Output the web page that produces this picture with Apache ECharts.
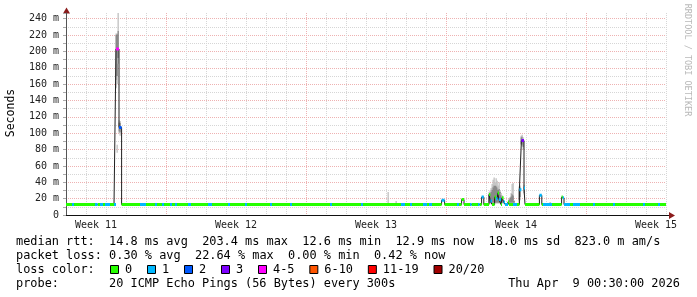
<!DOCTYPE html>
<html><head><meta charset="utf-8">
<script src="https://cdn.jsdelivr.net/npm/echarts@6/dist/echarts.min.js"></script>
<style>html,body{margin:0;padding:0;background:#fff}#c{width:697px;height:297px}</style>
</head><body><div id="c"></div>
<script>
// ---- data (time in days from left edge of the graph) ----
const weekLabels = ['Week 11','Week 12','Week 13','Week 14','Week 15'];
const weekCenters = [1.5, 8.5, 15.5, 22.5, 29.5];
const yLabelValues = [0,20,40,60,80,100,120,140,160,180,200,220,240];
const yLabelTexts = ['0','20 m','40 m','60 m','80 m','100 m','120 m','140 m','160 m','180 m','200 m','220 m','240 m'];

// median rtt (ms) segments: start time, value, loss colour index
const medStart = [0,0.3,0.4,1.45,1.58,1.7,1.85,1.95,2.2,2.4,2.5,2.65,2.78,3.7,4.0,4.45,4.55,4.8,4.9,5.2,5.3,5.45,5.55,6.1,6.25,7.1,7.3,8.1,8.2,8.95,9.05,10.2,10.3,11.2,11.3,13.2,13.3,14.75,14.85,16.75,16.95,17.2,17.3,17.85,18.05,18.15,18.3,18.78,18.93,19.55,19.65,19.78,19.9,20.2,20.28,20.6,20.68,20.78,20.89,21.15,21.22,21.3,21.43,21.5,21.58,21.65,21.75,21.8,21.88,21.95,22.1,22.15,22.35,22.55,22.67,22.77,22.9,22.95,23.67,23.79,23.85,24.3,24.78,24.84,24.9,25.2,25.35,25.7,26.35,26.45,27.35,27.45,28.85,28.95,29.6,29.7];
const medValue = [12.8,12.8,12.8,12.8,12.8,12.8,12.8,12.8,12.8,12.8,203,107,12.8,12.8,12.8,12.8,12.8,12.8,12.8,12.8,12.8,12.8,12.8,12.8,12.8,12.8,12.8,12.8,12.8,12.8,12.8,12.8,12.8,12.8,12.8,12.8,12.8,12.8,12.8,12.8,12.8,12.8,12.8,12.8,12.8,12.8,12.8,18,12.8,12.8,12.8,19,12.8,12.8,12.8,12.8,12.8,22,12.8,25,17,12.8,22,20,27,19,12.8,21,16,12.8,16,12.8,12.8,12.8,31,91,33,12.8,24,12.8,12.8,12.8,22,21,12.8,12.8,12.8,12.8,12.8,12.8,12.8,12.8,12.8,12.8,12.8,12.8];
const medLoss = [0,1,0,1,0,1,0,1,0,1,4,2,0,1,0,1,0,1,0,1,0,1,0,1,0,1,0,1,0,1,0,1,0,1,0,1,0,1,0,1,0,1,0,1,0,1,0,1,0,1,0,0,0,1,0,1,0,1,0,0,1,0,0,1,0,1,0,0,1,1,0,0,1,0,1,3,1,0,1,0,1,0,0,1,1,0,1,0,1,0,1,0,1,0,1,0];
const medEnd = 30;

// smoke (ping spread, ms): time, low, dark low, dark high, high
const smokeTime   = [2.5,2.55,2.55,2.6,2.65,2.7,16.1,16.5,21.15,21.2,21.25,21.3,21.35,21.4,21.45,21.5,21.55,21.6,21.65,21.7,21.75,21.8,21.85,22.15,22.2,22.25,22.3,22.35,22.4,22.65,22.7,22.75,22.8,22.85,22.9,24.2];
const smokeLo     = [155,160,76,185,100,97,14,14,14,14,14,14,14,14,14,14,14,14,14,14,14,14,14,14,14,14,14,14,14,15,18,86,84,80,25,14];
const smokeDarkLo = [165,170,80,192,102,101,14,14,15,15,15,15,15,15,15,15,15,15,15,15,15,15,15,15,15,15,15,15,15,18,22,87,86,83,27,14];
const smokeDarkHi = [220,221,80,225,113,113,14,14,25,26,28,31,34,36,36,36,34,31,32,28,24,21,19,19,21,23,26,24,17,32,34,95,96,93,35,14];
const smokeHi     = [222,222,86,250,116,115,28,17,28,30,33,38,43,46,40,45,42,36,40,30,27,24,20,20,22,27,38,39,18,35,36,97,98,95,37,16];

const lossLabels = ['0','1','2','3','4-5','6-10','11-19','20/20'];
const lossColors = ['#26ff00','#00b8ff','#0059ff','#7e00ff','#ff00ff','#ff5500','#ff0000','#a00000'];

const statLine1 = 'median rtt:  14.8 ms avg  203.4 ms max  12.6 ms min  12.9 ms now  18.0 ms sd  823.0 m am/s';
const statLine2 = 'packet loss: 0.30 % avg  22.64 % max  0.00 % min  0.42 % now';
const lossTitle = 'loss color:';
const probeTitle = 'probe:';
const probeText = '20 ICMP Echo Pings (56 Bytes) every 300s';
const dateText = 'Thu Apr  9 00:30:00 2026';
const yTitle = 'Seconds';
const sideText = 'RRDTOOL / TOBI OETIKER';

// ---- layout / style ----
const MONO = '"DejaVu Sans Mono", monospace';
const GRID = '#d6d6d6', MGRID = '#eeb2b2';
const SMOKE_LIGHT = '#bfbfbf', SMOKE_DARK = '#7c7c7c';
const SMOKE_W = 0.05;

const chart = echarts.init(document.getElementById('c'), null, {renderer:'canvas', width:697, height:297});

const medPts = [];
const colorData = lossColors.map(() => []);
medStart.forEach((s, i) => {
  const e = i + 1 < medStart.length ? medStart[i + 1] : medEnd;
  medPts.push([s, medValue[i]], [e, medValue[i]]);
  colorData[medLoss[i]].push([s, medValue[i]], [e, medValue[i]], [e, null]);
});

const xSplitColors = [GRID, GRID, GRID, GRID, GRID, MGRID, GRID];

const series = [{
  type: 'custom', coordinateSystem: 'cartesian2d', z: 1, silent: true, clip: true,
  data: smokeTime.map((t, i) => [t, smokeLo[i], smokeDarkLo[i], smokeDarkHi[i], smokeHi[i]]),
  encode: {x: 0, y: [1, 4]},
  renderItem(params, api) {
    const t = api.value(0);
    const w = api.size([SMOKE_W, 0])[0];
    const rect = (a, b, fill) => {
      const pa = api.coord([t, a]), pb = api.coord([t, b]);
      return {type: 'rect', shape: {x: pa[0] - w / 2, y: pb[1], width: w + 0.3, height: pa[1] - pb[1]}, style: {fill}};
    };
    return {type: 'group', children: [
      rect(api.value(1), api.value(2), SMOKE_LIGHT),
      rect(api.value(2), api.value(3), SMOKE_DARK),
      rect(api.value(3), api.value(4), SMOKE_LIGHT)
    ]};
  }
}, {
  type: 'line', data: medPts, z: 2, symbol: 'none', silent: true,
  lineStyle: {color: '#202020', width: 1}
}];
colorData.forEach((d, k) => {
  if (!d.length) return;
  series.push({type: 'line', data: d, z: 3, symbol: 'none', silent: true, connectNulls: false,
    lineStyle: {color: lossColors[k], width: 3, cap: 'butt'}});
});

const graphic = [];
const txt = (x, y, text, opts = {}) => graphic.push(Object.assign({
  type: 'text', x, y, silent: true,
  style: Object.assign({text, font: '11.9px ' + MONO, fill: '#000', align: 'left', verticalAlign: 'middle', textAlign: 'left', textVerticalAlign: 'middle'}, opts.style || {})
}, opts.el || {}));
txt(16, 241.5, statLine1);
txt(16, 255.5, statLine2);
txt(16, 269.5, lossTitle);
txt(16, 284, probeTitle);
txt(109, 284, probeText);
txt(680, 284, dateText, {style: {align: 'right', textAlign: 'right'}});
let sx = 110;
lossLabels.forEach((lab, i) => {
  graphic.push({type: 'rect', silent: true, shape: {x: sx + 0.5, y: 265.5, width: 8, height: 8},
    style: {fill: lossColors[i], stroke: '#000', lineWidth: 1}});
  txt(sx + 15, 269.5, lab);
  sx += 37 + (lab.length - 1) * 7.17;
});
txt(11, 113, yTitle, {el: {rotation: Math.PI / 2}, style: {font: '11.5px ' + MONO, align: 'center', textAlign: 'center', fill: '#000'}});
txt(687, 60, sideText, {el: {rotation: -Math.PI / 2}, style: {font: '8.5px ' + MONO, align: 'center', textAlign: 'center', fill: '#b8b8b8'}});
graphic.push({type: 'polygon', silent: true, shape: {points: [[63, 13.5], [70, 13.5], [66.5, 7.5]]}, style: {fill: '#8b1c1c'}});
graphic.push({type: 'line', silent: true, shape: {x1: 666, y1: 215.5, x2: 669.5, y2: 215.5}, style: {stroke: '#111', lineWidth: 1}});
graphic.push({type: 'polygon', silent: true, shape: {points: [[669, 212], [669, 219], [675, 215.5]]}, style: {fill: '#8b1c1c'}});

chart.setOption({
  animation: false,
  backgroundColor: '#fff',
  grid: {left: 66, right: 31, top: 13, bottom: 82, containLabel: false},
  xAxis: {
    type: 'value', min: 0, max: medEnd, interval: 1,
    axisLine: {show: true, onZero: false, lineStyle: {color: '#111', width: 1}},
    axisTick: {show: false},
    axisLabel: {customValues: weekCenters, formatter: (v) => {
      let k = 0; weekCenters.forEach((c, i) => { if (Math.abs(c - v) < Math.abs(weekCenters[k] - v)) k = i; });
      return weekLabels[k];
    }, fontFamily: MONO, fontSize: 10, color: '#222', margin: 5},
    splitLine: {show: true, lineStyle: {type: 'dotted', width: 1, color: xSplitColors}}
  },
  yAxis: {
    type: 'value', min: 0, max: 247, interval: 10,
    axisLine: {show: true, onZero: false, lineStyle: {color: '#555', width: 1}},
    axisTick: {show: true, length: 3, lineStyle: {color: '#aaa'}},
    axisLabel: {customValues: yLabelValues, formatter: (v) => {
      const i = yLabelValues.indexOf(v); return i >= 0 ? yLabelTexts[i] : '';
    }, fontFamily: MONO, fontSize: 10, color: '#222', margin: 7},
    splitLine: {show: true, showMaxLine: false, lineStyle: {type: 'dotted', width: 1, color: [MGRID, GRID]}}
  },
  series,
  graphic
});
</script></body></html>
